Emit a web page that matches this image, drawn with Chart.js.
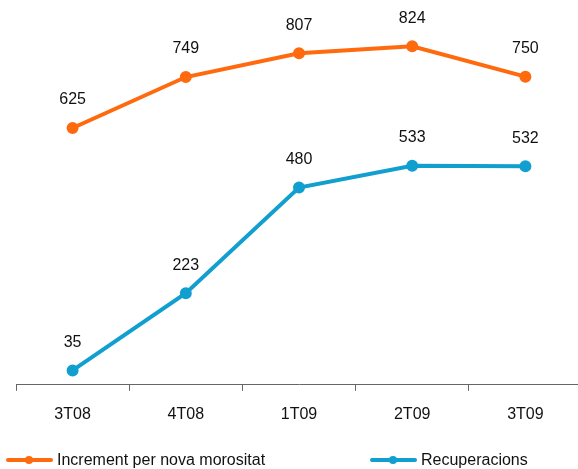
<!DOCTYPE html>
<html lang="ca">
<head>
  <meta charset="UTF-8">
  <title>Increment per nova morositat i recuperacions</title>
  <style>
    html, body {
      margin: 0;
      padding: 0;
      background: #fff;
      overflow: hidden;
    }
    #wrap {
      width: 578px;
      height: 469px;
      overflow: hidden;
    }
  </style>
</head>
<body>
  <div id="wrap">
    <!-- a few px wider than the frame so the axis runs off the right edge -->
    <canvas id="chart" width="582" height="469"></canvas>
  </div>

  <script src="https://cdn.jsdelivr.net/npm/chart.js"></script>
  <script>
    const quarters = ['3T08', '4T08', '1T09', '2T09', '3T09'];
    const novaMorositat = [625, 749, 807, 824, 750];
    const recuperacions = [35, 223, 480, 533, 532];

    const FONT = '"Liberation Sans", Arial, sans-serif';

    // value labels above each point
    const valueLabels = {
      id: 'valueLabels',
      afterDatasetsDraw(chart) {
        const ctx = chart.ctx;
        ctx.save();
        ctx.font = '16px ' + FONT;
        ctx.fillStyle = '#111';
        ctx.textAlign = 'center';
        ctx.textBaseline = 'middle';
        chart.data.datasets.forEach((ds, i) => {
          chart.getDatasetMeta(i).data.forEach((pt, j) => {
            ctx.fillText(ds.data[j], pt.x, pt.y - 28);
          });
        });
        ctx.restore();
      }
    };

    // legend with line + dot markers under the axis
    const lineLegend = {
      id: 'lineLegend',
      afterDraw(chart) {
        const ctx = chart.ctx;
        const y = 460;
        const items = [
          { x: 8, ds: chart.data.datasets[0] },
          { x: 372, ds: chart.data.datasets[1] }
        ];
        ctx.save();
        ctx.font = '16px ' + FONT;
        ctx.textBaseline = 'middle';
        items.forEach(it => {
          ctx.strokeStyle = it.ds.borderColor;
          ctx.lineWidth = 4;
          ctx.lineCap = 'round';
          ctx.beginPath();
          ctx.moveTo(it.x, y);
          ctx.lineTo(it.x + 43, y);
          ctx.stroke();
          ctx.fillStyle = it.ds.borderColor;
          ctx.beginPath();
          ctx.arc(it.x + 21, y, 4, 0, Math.PI * 2);
          ctx.fill();
          ctx.fillStyle = '#111';
          ctx.fillText(it.ds.label, it.x + 49, y + 1);
        });
        ctx.restore();
      }
    };

    new Chart(document.getElementById('chart'), {
      type: 'line',
      data: {
        labels: quarters,
        datasets: [
          {
            label: 'Increment per nova morositat',
            data: novaMorositat,
            borderColor: '#ff6a0e',
            backgroundColor: '#ff6a0e',
            borderWidth: 4,
            pointRadius: 4,
            pointHoverRadius: 4,
            tension: 0
          },
          {
            label: 'Recuperacions',
            data: recuperacions,
            borderColor: '#119fd0',
            backgroundColor: '#119fd0',
            borderWidth: 4,
            pointRadius: 4,
            pointHoverRadius: 4,
            tension: 0
          }
        ]
      },
      options: {
        responsive: false,
        animation: false,
        layout: {
          autoPadding: false,
          padding: { left: 16, right: 0, top: 15, bottom: 31 }
        },
        plugins: {
          legend: { display: false },
          tooltip: { enabled: false }
        },
        scales: {
          x: {
            offset: true,
            grid: {
              offset: true,
              drawOnChartArea: false,
              drawTicks: true,
              tickLength: 6,
              color: '#666'
            },
            border: { display: true, color: '#666', width: 1 },
            ticks: {
              color: '#111',
              font: { family: FONT, size: 16 },
              padding: 14
            }
          },
          y: {
            display: false,
            min: 0,
            max: 900
          }
        }
      },
      plugins: [valueLabels, lineLegend]
    });
  </script>
</body>
</html>
